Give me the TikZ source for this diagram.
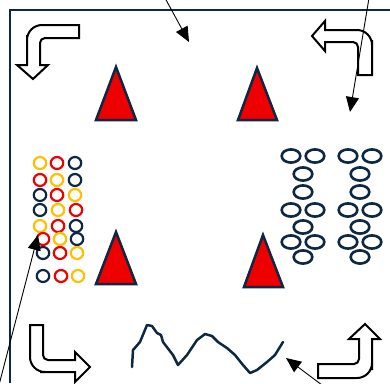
\documentclass[tikz,border=0pt]{standalone}
\usetikzlibrary{arrows.meta}
\definecolor{navy}{HTML}{0E2841}
\definecolor{tred}{HTML}{EE0000}
\definecolor{tyel}{HTML}{FFC000}
\begin{document}
\begin{tikzpicture}[x=1pt,y=-1pt,
  frame/.style={draw=navy,line width=2.8pt},
  bent/.style={draw=black,line width=2pt,fill=white,line join=miter},
  tri/.style={draw=navy,line width=2.5pt,fill=tred,line join=miter},
  ring/.style={line width=2.2pt},
  oval/.style={draw=navy,line width=2.6pt},
  wave/.style={draw=navy,line width=2.5pt,line join=round,line cap=round},
  pointer/.style={draw=black,line width=0.9pt,-{Triangle[length=15pt,width=13pt]}}]
\useasboundingbox (0,0) rectangle (390,383);
\fill[white] (0,0) rectangle (390,383);
% frame
\draw[frame] (10,383) -- (10,10) -- (390,10);
% bent arrows
\draw[bent] (79,25) -- (50,25) [rounded corners=15pt] -- (27,25) -- (27,50) [sharp corners] -- (27,65) -- (17,65) -- (33,79) -- (48,65) -- (40,65) -- (40,52) [rounded corners=5pt] -- (40,38) -- (60,38) [sharp corners] -- (79,38) -- cycle;
\draw[bent] (312,36) -- (325,21) -- (325,30) -- (350,30) [rounded corners=15pt] -- (372,30) -- (372,55) [sharp corners] -- (372,75) -- (358,75) -- (358,55) [rounded corners=5pt] -- (358,42) -- (340,42) [sharp corners] -- (325,42) -- (325,51) -- cycle;
\draw[bent] (43,325) -- (30,325) -- (30,345) [rounded corners=15pt] -- (30,372) -- (55,372) [sharp corners] -- (75,372) -- (75,382) -- (90,367) -- (75,352) -- (75,360) -- (55,360) [rounded corners=5pt] -- (43,360) -- (43,345) [sharp corners] -- cycle;
\draw[bent] (318,364) -- (318,378) -- (345,378) [rounded corners=15pt] -- (372,378) -- (372,355) [sharp corners] -- (372,339) -- (380,339) -- (365,324) -- (349,339) -- (359,339) -- (359,352) [rounded corners=5pt] -- (359,364) -- (340,364) [sharp corners] -- cycle;
% triangles
\draw[tri] (116,67) -- (136,120) -- (96,120) -- cycle;
\draw[tri] (257,68) -- (277,120) -- (238,120) -- cycle;
\draw[tri] (116,232) -- (136,284) -- (96,284) -- cycle;
\draw[tri] (263,235) -- (283,287) -- (244,287) -- cycle;
% left rings
\foreach \x/\y/\c in {40/163/tyel,57/163/tred,75/163/navy,
  40/180/tred,57/180/tyel,75/180/navy,
  40/195/navy,57/195/tred,75/195/tyel,
  40/210/navy,58/210/tyel,76/210/tred,
  40/226/tyel,58/226/tred,76/226/navy,
  43/239/tred,60/239/tyel,77/239/navy,
  43/253/navy,60/253/tred,77/253/tyel,
  43/276/navy,61/276/tred,78/276/tyel}
  \draw[ring,draw=\c] (\x,\y) ellipse [x radius=6.2pt,y radius=6pt];
% right ovals
\foreach \dx in {0,57}{
  \foreach \x/\y in {291/156,315/156,303/174,303/192,291/210,315/210,303/227,291/242,315/242,303/257}
    \draw[oval] (\x+\dx,\y) ellipse [x radius=9.3pt,y radius=6.6pt];
}
% wave
\draw[wave] (132,367) -- (133,350) -- (140,342) -- (147,325) -- (152,326) -- (157,333) -- (161,335) -- (163,342) -- (173,355) -- (178,365) -- (187,355) -- (197,340) -- (205,334) -- (212,336) -- (218,342) -- (227,348) -- (235,355) -- (243,365) -- (250,373) -- (257,370) -- (267,362) -- (275,355) -- (283,342);
% pointers
\coordinate (p1s) at (165,-2);
\coordinate (p1e) at (189,42);
\coordinate (p2s) at (369,-2);
\coordinate (p2e) at (350,112);
\coordinate (p3s) at (-1,385);
\coordinate (p3e) at (38,235);
\coordinate (p4s) at (322,385);
\coordinate (p4e) at (286,358);
\draw[pointer] (p1s) -- (p1e);
\draw[pointer] (p2s) -- (p2e);
\draw[pointer] (p3s) -- (p3e);
\draw[pointer] (p4s) -- (p4e);
\end{tikzpicture}
\end{document}
